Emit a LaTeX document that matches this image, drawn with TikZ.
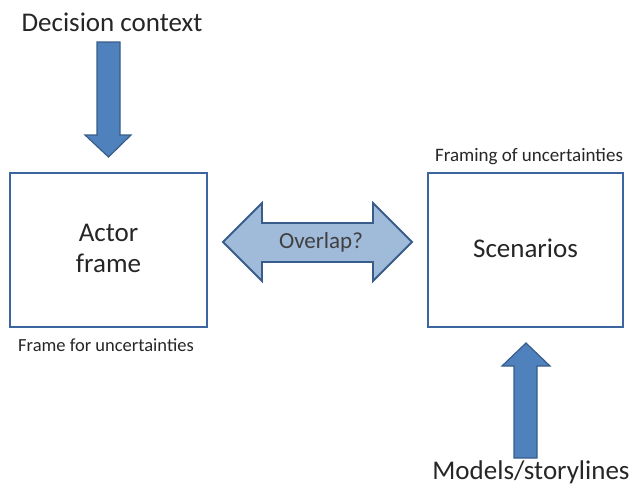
\documentclass[tikz,border=0pt]{standalone}
\usepackage{fontspec}
\setmainfont{Carlito}
\usepackage{xcolor}
\usepackage{tikz}
\usetikzlibrary{positioning}
\definecolor{boxblue}{RGB}{60,102,160}
\definecolor{arrowfill}{RGB}{79,129,189}
\definecolor{arrowline}{RGB}{56,93,138}
\definecolor{overlapfill}{RGB}{160,186,218}
\tikzset{
    framebox/.style = {draw = boxblue, line width = 2.6pt, fill = white},
    blockarrow/.style = {draw = arrowline, fill = arrowfill, line width = 1.2pt, line join = miter},
    overlaparrow/.style = {draw = arrowline, fill = overlapfill, line width = 1.8pt, line join = miter},
    bigtext/.style = {font = \fontsize{27}{31}\selectfont, text = black!85},
    smalltext/.style = {font = \fontsize{19}{22}\selectfont, text = black!85}
}

\begin{document}
\begin{tikzpicture}[x = 1pt, y = -1pt]
        \useasboundingbox (0, 0) rectangle (633, 488);

        % boxes
        \draw[framebox] (10, 173) rectangle (207, 327);
        \draw[framebox] (428, 173) rectangle (623, 327);
        \coordinate (actor) at (108.5, 248);
        \coordinate (scen) at (525.5, 248);

        % block arrows
        \draw[blockarrow] (97, 42) -- (120, 42) -- (120, 135) -- (131, 135)
            -- (108.5, 157) -- (85, 135) -- (97, 135) -- cycle;
        \draw[blockarrow] (514, 458) -- (537, 458) -- (537, 366) -- (550, 366)
            -- (526, 343) -- (502, 366) -- (514, 366) -- cycle;
        \draw[overlaparrow] (223, 242) -- (262, 203) -- (262, 223) -- (373, 223)
            -- (373, 203) -- (412, 242) -- (373, 281) -- (373, 262)
            -- (262, 262) -- (262, 281) -- cycle;

        % labels
        \node[bigtext] (decision) at (112, 22) {Decision context};
        \node[bigtext] (models) at (531, 472) {Models/storylines};
        \node[bigtext, align = center] (actorlabel) at (actor) {Actor\\frame};
        \node[bigtext] (scenlabel) at (scen) {Scenarios};
        \node[font = \fontsize{23}{26}\selectfont, text = black!75] (overlap) at (321, 242) {Overlap?};
        \node[smalltext] (framing) at (529, 157) {Framing of uncertainties};
        \node[font = \fontsize{18.5}{22}\selectfont, text = black!85] (framefor) at (106, 345) {Frame for uncertainties};
\end{tikzpicture}
\end{document}
